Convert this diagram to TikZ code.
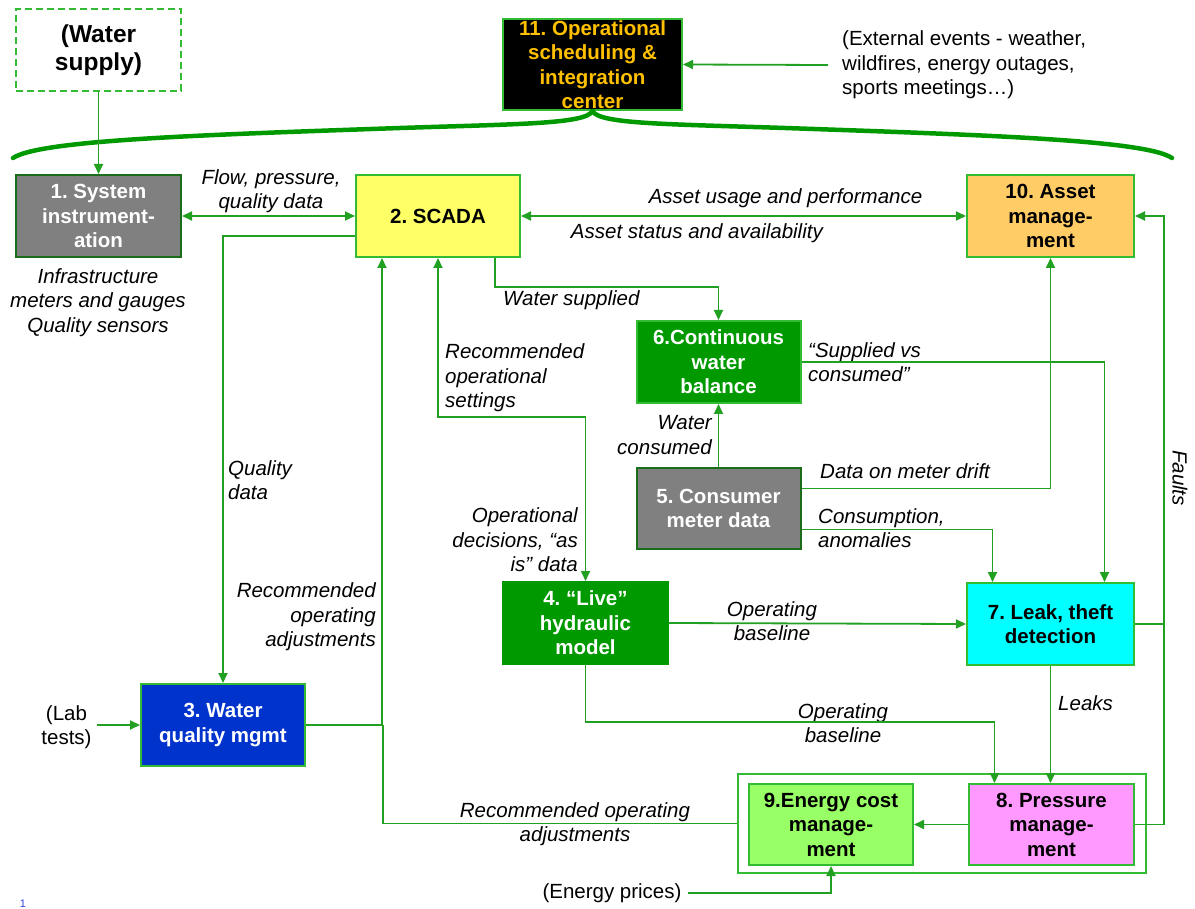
\documentclass[tikz,border=0pt]{standalone}
\usepackage{fontspec}
\setmainfont{Liberation Sans}
\usetikzlibrary{arrows.meta,calc}
\definecolor{ln}{HTML}{22A022}
\definecolor{bd}{HTML}{33BB33}
\definecolor{bdk}{HTML}{1A6E1A}
\definecolor{cgray}{HTML}{808080}
\definecolor{cyel}{HTML}{FFFF66}
\definecolor{corg}{HTML}{FFCC66}
\definecolor{cgrn}{HTML}{009900}
\definecolor{cblu}{HTML}{0033CC}
\definecolor{ccya}{HTML}{00FFFF}
\definecolor{cpnk}{HTML}{FF99FF}
\definecolor{clgr}{HTML}{99FF66}
\definecolor{cgold}{HTML}{FFC000}
\definecolor{cnum}{HTML}{3344DD}
\frenchspacing
\tikzset{
  box/.style={draw=bd, line width=2pt, align=center, inner sep=0pt,
    font=\frenchspacing\bfseries\fontsize{20.5}{24.5}\selectfont},
  lbl/.style={inner sep=0pt, font=\frenchspacing\itshape\fontsize{20.5}{24.5}\selectfont},
  plain/.style={inner sep=0pt, font=\frenchspacing\fontsize{20.5}{24.5}\selectfont},
  line/.style={draw=ln, line width=1.8pt},
  arr/.style={line, -{Triangle[length=10pt,width=9pt]}},
  arrb/.style={line, {Triangle[length=10pt,width=9pt]}-{Triangle[length=10pt,width=9pt]}},
  brace/.style={draw=cgrn, line width=4.5pt, line cap=round}
}
\begin{document}
\begin{tikzpicture}[x=1pt,y=-1pt]
\useasboundingbox (0,0) rectangle (1195,909);

% boxes
\node[box, dash pattern=on 7pt off 4pt, draw=bd, minimum width=165pt, minimum height=82pt, font=\bfseries\fontsize{24.5}{28}\selectfont] (ws) at (98.5,50) {(Water\\supply)};
\node[box, fill=black, text=cgold, minimum width=179pt, minimum height=91pt] (b11) at (592.5,64.5) {11. Operational\\scheduling \&\\integration\\center};
\node[box, draw=bdk, fill=cgray, text=white, minimum width=165pt, minimum height=82pt] (b1) at (98.5,216) {1. System\\instrument-\\ation};
\node[box, fill=cyel, minimum width=164pt, minimum height=82pt] (b2) at (438,216) {2. SCADA};
\node[box, fill=corg, minimum width=167pt, minimum height=82pt] (b10) at (1050.5,216) {10. Asset\\manage-\\ment};
\node[box, fill=cgrn, text=white, minimum width=164pt, minimum height=82pt] (b6) at (718.5,362) {6.Continuous\\water\\balance};
\node[box, draw=bdk, fill=cgray, text=white, minimum width=164pt, minimum height=81pt] (b5) at (718.5,508.5) {5. Consumer\\meter data};
\node[box, draw=cgrn, fill=cgrn, text=white, minimum width=165pt, minimum height=82pt] (b4) at (585.5,623) {4. “Live”\\hydraulic\\model};
\node[box, fill=ccya, minimum width=167pt, minimum height=82pt] (b7) at (1050.5,624) {7. Leak, theft\\detection};
\node[box, fill=cblu, text=white, minimum width=164pt, minimum height=82pt] (b3) at (223,725) {3. Water\\quality mgmt};
\node[draw=bd, line width=2pt, minimum width=408pt, minimum height=99pt, inner sep=0pt] (outer) at (942,823.5) {};
\node[box, fill=clgr, minimum width=164pt, minimum height=81pt] (b9) at (831,824.5) {9.Energy cost\\manage-\\ment};
\node[box, fill=cpnk, minimum width=165pt, minimum height=81pt] (b8) at (1051.5,824.5) {8. Pressure\\manage-\\ment};

% labels
\node[plain, anchor=west, align=left] (ext) at (842,65) {(External events - weather,\\wildfires, energy outages,\\sports meetings…)};
\node[lbl, align=center] (flow) at (271,191) {Flow, pressure,\\quality data};
\node[lbl] (usage) at (785.5,198) {Asset usage and performance};
\node[lbl, anchor=east] (status) at (823,233) {Asset status and availability};
\node[lbl, align=center] (infra) at (98,302.5) {Infrastructure\\meters and gauges\\Quality sensors};
\node[lbl, anchor=west, align=left] (qdata) at (228,480) {Quality\\data};
\node[lbl, anchor=west, align=left] (ros) at (445,378) {Recommended\\operational\\settings};
\node[lbl, anchor=west] (wsup) at (503,300) {Water supplied};
\node[lbl, anchor=west, align=left] (svc) at (808,362) {“Supplied vs\\consumed”};
\node[lbl, anchor=east, align=right] (wcons) at (712,435) {Water\\consumed};
\node[lbl, anchor=west] (drift) at (820,471) {Data on meter drift};
\node[lbl, anchor=west, align=left] (cons) at (818,528) {Consumption,\\anomalies};
\node[lbl, anchor=east, align=right] (opdec) at (578,540) {Operational\\decisions, “as\\is” data};
\node[lbl, anchor=east, align=right] (roa) at (376,617) {Recommended\\operating\\adjustments};
\node[lbl, align=center] (ob1) at (772,621) {Operating\\baseline};
\node[lbl, align=center] (ob2) at (843,723) {Operating\\baseline};
\node[lbl, anchor=west] (leaks) at (1058,703) {Leaks};
\node[lbl, rotate=-90] (faults) at (1180,478) {Faults};
\node[lbl, align=center] (roa2) at (575,824) {Recommended operating\\adjustments};
\node[plain, align=center] (lab) at (66.5,727) {(Lab\\tests)};
\node[plain] (ep) at (612,893) {(Energy prices)};
\node[inner sep=0pt, text=cnum, font=\fontsize{11}{12}\selectfont] (pg) at (23,904) {1};

% brace
\coordinate (bl) at (13,158);
\coordinate (br) at (1172,158);
\draw[brace] (b11.south) .. controls (586,124) and (520,124) .. (400,128) .. controls (200,135) and (40,140) .. (bl);
\draw[brace] (b11.south) .. controls (599,124) and (665,124) .. (785,128) .. controls (985,135) and (1145,140) .. (br);

% connectors
\coordinate (j1) at (383,725);
\draw[arr] ($(ext.west)+(-14,0)$) -- (b11.east);
\draw[arr] (ws) -- (b1);
\draw[arrb] (b1) -- (b2);
\draw[arrb] (b2) -- (b10);
\draw[arr] ($(b2.west)+(0,20)$) -| (b3.north);
\draw[arr] (b3.east) -| ($(b2.south west)+(27,0)$);
\draw[line] (outer.west) -| (j1);
\draw[arrb] (b2.south) |- ($(b4.north)+(0,-164)$) -- (b4.north);
\draw[arr] ($(b2.south east)+(-26,0)$) |- ($(b6.north)+(0,-33)$) -- (b6.north);
\draw[arr] (b5) -- (b6);
\draw[arr] (b6.east) -| ($(b7.north)+(54,0)$);
\draw[arr] ($(b5.east)+(0,-20)$) -| (b10.south);
\draw[arr] ($(b5.east)+(0,21)$) -| ($(b7.north)+(-58,0)$);
\draw[arr] (b4.east) -- (b7.west);
\draw[arr] (b4.south) |- ($(b8.north)+(-57,-61)$) -- ($(b8.north)+(-57,0)$);
\draw[arr] (b7.south) -- (b7.south |- b8.north);
\draw[arr] (b8.east) -- ++(29,0) |- (b10.east);
\draw[line] (b7.east) -- ++(29,0);
\draw[arr] (b8.west) -- (b9.east);
\draw[arr] ($(ep.east)+(6,0)$) -| (b9.south);
\draw[arr] ($(lab.east |- b3.west)+(5,0)$) -- (b3.west);
\end{tikzpicture}
\end{document}
